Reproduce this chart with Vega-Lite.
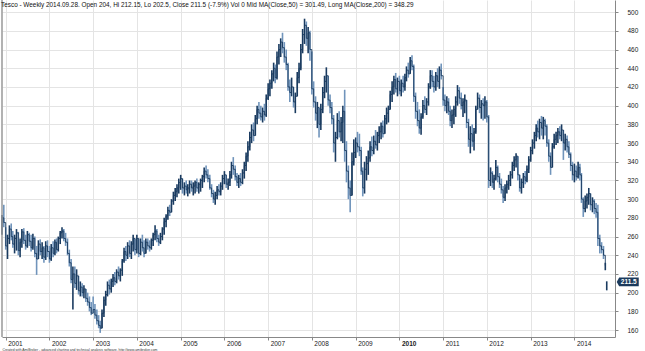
{
  "$schema": "https://vega.github.io/schema/vega-lite/v6.json",
  "width": 613,
  "height": 337,
  "autosize": {"type": "none"},
  "padding": {"left": 2, "right": 30, "top": 0, "bottom": 14},
  "background": "white",
  "config": {
    "view": {"stroke": null},
    "font": "Liberation Sans",
    "axis": {"gridColor": "#e4e4e4", "gridWidth": 1},
    "axisY": {"grid": true, "labelOverlap": false, "tickSize": 3, "tickColor": "#888", "domainColor": "#888", "labelFontSize": 6.5, "labelColor": "#222", "labelPadding": 9}
  },
  "title": {
    "text": "Tesco - Weekly 2014.09.28. Open 204, Hi 212.15, Lo 202.5, Close 211.5 (-7.9%) Vol 0 Mid MA(Close,50) = 301.49, Long MA(Close,200) = 348.29",
    "anchor": "start",
    "frame": "group",
    "orient": "top",
    "fontSize": 6.4,
    "fontWeight": "normal",
    "color": "#111",
    "offset": -9,
    "dx": -1
  },
  "data": {
    "values": [
      {"d": "2000-12-01", "o": 265, "h": 283, "l": 262, "c": 280},
      {"d": "2000-12-16", "o": 278, "h": 294, "l": 270, "c": 275},
      {"d": "2001-01-01", "o": 268, "h": 270, "l": 246, "c": 250},
      {"d": "2001-01-16", "o": 250, "h": 262, "l": 236, "c": 258},
      {"d": "2001-02-01", "o": 258, "h": 272, "l": 252, "c": 268},
      {"d": "2001-02-16", "o": 268, "h": 274, "l": 256, "c": 260},
      {"d": "2001-03-01", "o": 260, "h": 266, "l": 248, "c": 252},
      {"d": "2001-03-16", "o": 252, "h": 262, "l": 242, "c": 258},
      {"d": "2001-04-01", "o": 258, "h": 268, "l": 245, "c": 264},
      {"d": "2001-04-16", "o": 264, "h": 265, "l": 240, "c": 245},
      {"d": "2001-05-01", "o": 245, "h": 258, "l": 238, "c": 254},
      {"d": "2001-05-16", "o": 254, "h": 268, "l": 248, "c": 265},
      {"d": "2001-06-01", "o": 265, "h": 269, "l": 252, "c": 256},
      {"d": "2001-06-16", "o": 256, "h": 262, "l": 246, "c": 250},
      {"d": "2001-07-01", "o": 250, "h": 266, "l": 248, "c": 262},
      {"d": "2001-07-16", "o": 262, "h": 264, "l": 250, "c": 255},
      {"d": "2001-08-01", "o": 255, "h": 262, "l": 244, "c": 248},
      {"d": "2001-08-16", "o": 248, "h": 263, "l": 246, "c": 258},
      {"d": "2001-09-01", "o": 258, "h": 260, "l": 238, "c": 242},
      {"d": "2001-09-16", "o": 242, "h": 250, "l": 219, "c": 236},
      {"d": "2001-10-01", "o": 236, "h": 256, "l": 236, "c": 252},
      {"d": "2001-10-16", "o": 252, "h": 257, "l": 240, "c": 244},
      {"d": "2001-11-01", "o": 244, "h": 254, "l": 236, "c": 248},
      {"d": "2001-11-16", "o": 248, "h": 250, "l": 232, "c": 238},
      {"d": "2001-12-01", "o": 238, "h": 255, "l": 235, "c": 250},
      {"d": "2001-12-16", "o": 250, "h": 256, "l": 238, "c": 244},
      {"d": "2002-01-01", "o": 244, "h": 250, "l": 232, "c": 236},
      {"d": "2002-01-16", "o": 236, "h": 252, "l": 234, "c": 248},
      {"d": "2002-02-01", "o": 248, "h": 255, "l": 238, "c": 242},
      {"d": "2002-02-16", "o": 242, "h": 257, "l": 240, "c": 254},
      {"d": "2002-03-01", "o": 254, "h": 258, "l": 242, "c": 246},
      {"d": "2002-03-16", "o": 246, "h": 260, "l": 244, "c": 258},
      {"d": "2002-04-01", "o": 258, "h": 266, "l": 252, "c": 264},
      {"d": "2002-04-16", "o": 264, "h": 270, "l": 258, "c": 266},
      {"d": "2002-05-01", "o": 266, "h": 268, "l": 255, "c": 258},
      {"d": "2002-05-16", "o": 258, "h": 264, "l": 250, "c": 254},
      {"d": "2002-06-01", "o": 254, "h": 258, "l": 240, "c": 242},
      {"d": "2002-06-16", "o": 242, "h": 246, "l": 228, "c": 232},
      {"d": "2002-07-01", "o": 232, "h": 236, "l": 210, "c": 214},
      {"d": "2002-07-16", "o": 214, "h": 228, "l": 182, "c": 220},
      {"d": "2002-08-01", "o": 220, "h": 228, "l": 205, "c": 210},
      {"d": "2002-08-16", "o": 210, "h": 225, "l": 203, "c": 218},
      {"d": "2002-09-01", "o": 218, "h": 218, "l": 198, "c": 202},
      {"d": "2002-09-16", "o": 202, "h": 212, "l": 196, "c": 206},
      {"d": "2002-10-01", "o": 206, "h": 210, "l": 196, "c": 200},
      {"d": "2002-10-16", "o": 200, "h": 208, "l": 194, "c": 204},
      {"d": "2002-11-01", "o": 204, "h": 204, "l": 190, "c": 194},
      {"d": "2002-11-16", "o": 194, "h": 200, "l": 186, "c": 190},
      {"d": "2002-12-01", "o": 190, "h": 196, "l": 180, "c": 184},
      {"d": "2002-12-16", "o": 184, "h": 190, "l": 176, "c": 178},
      {"d": "2003-01-01", "o": 190, "h": 196, "l": 178, "c": 182},
      {"d": "2003-01-16", "o": 182, "h": 188, "l": 172, "c": 176},
      {"d": "2003-02-01", "o": 176, "h": 182, "l": 166, "c": 170},
      {"d": "2003-02-16", "o": 170, "h": 176, "l": 162, "c": 165},
      {"d": "2003-03-01", "o": 165, "h": 170, "l": 157, "c": 162},
      {"d": "2003-03-16", "o": 162, "h": 182, "l": 162, "c": 178},
      {"d": "2003-04-01", "o": 178, "h": 196, "l": 174, "c": 192},
      {"d": "2003-04-16", "o": 192, "h": 202, "l": 186, "c": 198},
      {"d": "2003-05-01", "o": 198, "h": 212, "l": 196, "c": 208},
      {"d": "2003-05-16", "o": 208, "h": 214, "l": 198, "c": 204},
      {"d": "2003-06-01", "o": 204, "h": 215, "l": 200, "c": 212},
      {"d": "2003-06-16", "o": 212, "h": 220, "l": 206, "c": 216},
      {"d": "2003-07-01", "o": 216, "h": 222, "l": 208, "c": 212},
      {"d": "2003-07-16", "o": 212, "h": 225, "l": 210, "c": 222},
      {"d": "2003-08-01", "o": 222, "h": 228, "l": 214, "c": 218},
      {"d": "2003-08-16", "o": 218, "h": 226, "l": 212, "c": 224},
      {"d": "2003-09-01", "o": 224, "h": 236, "l": 218, "c": 234},
      {"d": "2003-09-16", "o": 234, "h": 248, "l": 232, "c": 244},
      {"d": "2003-10-01", "o": 244, "h": 250, "l": 234, "c": 240},
      {"d": "2003-10-16", "o": 240, "h": 254, "l": 236, "c": 250},
      {"d": "2003-11-01", "o": 250, "h": 256, "l": 238, "c": 242},
      {"d": "2003-11-16", "o": 242, "h": 255, "l": 236, "c": 252},
      {"d": "2003-12-01", "o": 252, "h": 262, "l": 244, "c": 258},
      {"d": "2003-12-16", "o": 258, "h": 258, "l": 240, "c": 246},
      {"d": "2004-01-01", "o": 246, "h": 262, "l": 242, "c": 258},
      {"d": "2004-01-16", "o": 258, "h": 258, "l": 238, "c": 242},
      {"d": "2004-02-01", "o": 242, "h": 258, "l": 240, "c": 254},
      {"d": "2004-02-16", "o": 254, "h": 262, "l": 244, "c": 248},
      {"d": "2004-03-01", "o": 248, "h": 256, "l": 238, "c": 242},
      {"d": "2004-03-16", "o": 242, "h": 258, "l": 242, "c": 254},
      {"d": "2004-04-01", "o": 254, "h": 258, "l": 246, "c": 250},
      {"d": "2004-04-16", "o": 250, "h": 256, "l": 244, "c": 248},
      {"d": "2004-05-01", "o": 248, "h": 258, "l": 246, "c": 256},
      {"d": "2004-05-16", "o": 256, "h": 264, "l": 250, "c": 262},
      {"d": "2004-06-01", "o": 262, "h": 272, "l": 256, "c": 266},
      {"d": "2004-06-16", "o": 266, "h": 268, "l": 254, "c": 258},
      {"d": "2004-07-01", "o": 258, "h": 262, "l": 250, "c": 254},
      {"d": "2004-07-16", "o": 254, "h": 264, "l": 252, "c": 260},
      {"d": "2004-08-01", "o": 260, "h": 270, "l": 256, "c": 268},
      {"d": "2004-08-16", "o": 268, "h": 280, "l": 262, "c": 276},
      {"d": "2004-09-01", "o": 276, "h": 284, "l": 270, "c": 282},
      {"d": "2004-09-16", "o": 282, "h": 292, "l": 278, "c": 288},
      {"d": "2004-10-01", "o": 288, "h": 294, "l": 282, "c": 286},
      {"d": "2004-10-16", "o": 286, "h": 300, "l": 286, "c": 298},
      {"d": "2004-11-01", "o": 298, "h": 308, "l": 294, "c": 304},
      {"d": "2004-11-16", "o": 304, "h": 312, "l": 298, "c": 308},
      {"d": "2004-12-01", "o": 308, "h": 316, "l": 302, "c": 312},
      {"d": "2004-12-16", "o": 312, "h": 322, "l": 306, "c": 318},
      {"d": "2005-01-01", "o": 318, "h": 326, "l": 310, "c": 322},
      {"d": "2005-01-16", "o": 322, "h": 322, "l": 306, "c": 312},
      {"d": "2005-02-01", "o": 312, "h": 318, "l": 304, "c": 314},
      {"d": "2005-02-16", "o": 314, "h": 320, "l": 306, "c": 310},
      {"d": "2005-03-01", "o": 310, "h": 316, "l": 303, "c": 312},
      {"d": "2005-03-16", "o": 312, "h": 320, "l": 306, "c": 316},
      {"d": "2005-04-01", "o": 316, "h": 320, "l": 308, "c": 312},
      {"d": "2005-04-16", "o": 312, "h": 318, "l": 304, "c": 314},
      {"d": "2005-05-01", "o": 314, "h": 320, "l": 306, "c": 318},
      {"d": "2005-05-16", "o": 318, "h": 322, "l": 308, "c": 312},
      {"d": "2005-06-01", "o": 312, "h": 318, "l": 306, "c": 316},
      {"d": "2005-06-16", "o": 316, "h": 322, "l": 308, "c": 320},
      {"d": "2005-07-01", "o": 320, "h": 326, "l": 312, "c": 324},
      {"d": "2005-07-16", "o": 324, "h": 334, "l": 318, "c": 330},
      {"d": "2005-08-01", "o": 330, "h": 336, "l": 322, "c": 326},
      {"d": "2005-08-16", "o": 326, "h": 332, "l": 318, "c": 322},
      {"d": "2005-09-01", "o": 322, "h": 326, "l": 310, "c": 312},
      {"d": "2005-09-16", "o": 312, "h": 316, "l": 302, "c": 306},
      {"d": "2005-10-01", "o": 306, "h": 310, "l": 296, "c": 300},
      {"d": "2005-10-16", "o": 300, "h": 308, "l": 294, "c": 304},
      {"d": "2005-11-01", "o": 304, "h": 314, "l": 300, "c": 310},
      {"d": "2005-11-16", "o": 310, "h": 316, "l": 304, "c": 308},
      {"d": "2005-12-01", "o": 308, "h": 318, "l": 304, "c": 314},
      {"d": "2005-12-16", "o": 314, "h": 326, "l": 310, "c": 322},
      {"d": "2006-01-01", "o": 322, "h": 330, "l": 316, "c": 326},
      {"d": "2006-01-16", "o": 326, "h": 326, "l": 312, "c": 316},
      {"d": "2006-02-01", "o": 316, "h": 322, "l": 310, "c": 318},
      {"d": "2006-02-16", "o": 318, "h": 330, "l": 314, "c": 326},
      {"d": "2006-03-01", "o": 326, "h": 340, "l": 322, "c": 336},
      {"d": "2006-03-16", "o": 336, "h": 345, "l": 326, "c": 332},
      {"d": "2006-04-01", "o": 332, "h": 336, "l": 320, "c": 324},
      {"d": "2006-04-16", "o": 324, "h": 328, "l": 314, "c": 318},
      {"d": "2006-05-01", "o": 318, "h": 326, "l": 312, "c": 322},
      {"d": "2006-05-16", "o": 322, "h": 328, "l": 314, "c": 318},
      {"d": "2006-06-01", "o": 318, "h": 332, "l": 316, "c": 328},
      {"d": "2006-06-16", "o": 328, "h": 340, "l": 322, "c": 336},
      {"d": "2006-07-01", "o": 336, "h": 350, "l": 330, "c": 346},
      {"d": "2006-07-16", "o": 346, "h": 362, "l": 340, "c": 356},
      {"d": "2006-08-01", "o": 356, "h": 372, "l": 352, "c": 366},
      {"d": "2006-08-16", "o": 366, "h": 380, "l": 360, "c": 374},
      {"d": "2006-09-01", "o": 374, "h": 382, "l": 362, "c": 368},
      {"d": "2006-09-16", "o": 368, "h": 390, "l": 368, "c": 386},
      {"d": "2006-10-01", "o": 386, "h": 400, "l": 380, "c": 396},
      {"d": "2006-10-16", "o": 396, "h": 404, "l": 386, "c": 392},
      {"d": "2006-11-01", "o": 392, "h": 400, "l": 384, "c": 388},
      {"d": "2006-11-16", "o": 388, "h": 398, "l": 382, "c": 394},
      {"d": "2006-12-01", "o": 394, "h": 402, "l": 384, "c": 390},
      {"d": "2006-12-16", "o": 390, "h": 412, "l": 388, "c": 408},
      {"d": "2007-01-01", "o": 408, "h": 424, "l": 406, "c": 418},
      {"d": "2007-01-16", "o": 418, "h": 428, "l": 410, "c": 424},
      {"d": "2007-02-01", "o": 424, "h": 438, "l": 418, "c": 434},
      {"d": "2007-02-16", "o": 434, "h": 446, "l": 426, "c": 440},
      {"d": "2007-03-01", "o": 440, "h": 444, "l": 424, "c": 430},
      {"d": "2007-03-16", "o": 430, "h": 458, "l": 428, "c": 452},
      {"d": "2007-04-01", "o": 452, "h": 466, "l": 444, "c": 460},
      {"d": "2007-04-16", "o": 460, "h": 472, "l": 452, "c": 468},
      {"d": "2007-05-01", "o": 468, "h": 478, "l": 456, "c": 462},
      {"d": "2007-05-16", "o": 462, "h": 468, "l": 446, "c": 452},
      {"d": "2007-06-01", "o": 452, "h": 460, "l": 438, "c": 444},
      {"d": "2007-06-16", "o": 444, "h": 446, "l": 416, "c": 420},
      {"d": "2007-07-01", "o": 420, "h": 428, "l": 404, "c": 414},
      {"d": "2007-07-16", "o": 414, "h": 430, "l": 410, "c": 420},
      {"d": "2007-08-01", "o": 420, "h": 420, "l": 398, "c": 404},
      {"d": "2007-08-16", "o": 404, "h": 414, "l": 392, "c": 410},
      {"d": "2007-09-01", "o": 410, "h": 436, "l": 410, "c": 430},
      {"d": "2007-09-16", "o": 430, "h": 446, "l": 424, "c": 440},
      {"d": "2007-10-01", "o": 440, "h": 466, "l": 438, "c": 460},
      {"d": "2007-10-16", "o": 460, "h": 482, "l": 456, "c": 476},
      {"d": "2007-11-01", "o": 476, "h": 493, "l": 466, "c": 486},
      {"d": "2007-11-16", "o": 486, "h": 490, "l": 464, "c": 472},
      {"d": "2007-12-01", "o": 472, "h": 484, "l": 456, "c": 478},
      {"d": "2007-12-16", "o": 478, "h": 480, "l": 448, "c": 460},
      {"d": "2008-01-01", "o": 452, "h": 458, "l": 412, "c": 418},
      {"d": "2008-01-16", "o": 418, "h": 426, "l": 398, "c": 404},
      {"d": "2008-02-01", "o": 404, "h": 410, "l": 384, "c": 392},
      {"d": "2008-02-16", "o": 392, "h": 404, "l": 376, "c": 398},
      {"d": "2008-03-01", "o": 398, "h": 398, "l": 366, "c": 380},
      {"d": "2008-03-16", "o": 380, "h": 402, "l": 374, "c": 396},
      {"d": "2008-04-01", "o": 396, "h": 420, "l": 392, "c": 414},
      {"d": "2008-04-16", "o": 414, "h": 432, "l": 408, "c": 426},
      {"d": "2008-05-01", "o": 426, "h": 441, "l": 414, "c": 432},
      {"d": "2008-05-16", "o": 432, "h": 432, "l": 400, "c": 406},
      {"d": "2008-06-01", "o": 406, "h": 412, "l": 392, "c": 398},
      {"d": "2008-06-16", "o": 398, "h": 404, "l": 380, "c": 386},
      {"d": "2008-07-01", "o": 386, "h": 390, "l": 350, "c": 360},
      {"d": "2008-07-16", "o": 360, "h": 372, "l": 340, "c": 366},
      {"d": "2008-08-01", "o": 366, "h": 392, "l": 364, "c": 384},
      {"d": "2008-08-16", "o": 384, "h": 394, "l": 366, "c": 372},
      {"d": "2008-09-01", "o": 372, "h": 388, "l": 362, "c": 382},
      {"d": "2008-09-16", "o": 382, "h": 400, "l": 360, "c": 394},
      {"d": "2008-10-01", "o": 394, "h": 417, "l": 340, "c": 352},
      {"d": "2008-10-16", "o": 352, "h": 362, "l": 318, "c": 330},
      {"d": "2008-11-01", "o": 330, "h": 336, "l": 300, "c": 312},
      {"d": "2008-11-16", "o": 312, "h": 320, "l": 286, "c": 304},
      {"d": "2008-12-01", "o": 304, "h": 350, "l": 304, "c": 340},
      {"d": "2008-12-16", "o": 340, "h": 364, "l": 336, "c": 350},
      {"d": "2009-01-01", "o": 350, "h": 366, "l": 344, "c": 360},
      {"d": "2009-01-16", "o": 360, "h": 372, "l": 350, "c": 356},
      {"d": "2009-02-01", "o": 356, "h": 370, "l": 346, "c": 352},
      {"d": "2009-02-16", "o": 352, "h": 356, "l": 326, "c": 330},
      {"d": "2009-03-01", "o": 330, "h": 334, "l": 303, "c": 312},
      {"d": "2009-03-16", "o": 312, "h": 340, "l": 306, "c": 332},
      {"d": "2009-04-01", "o": 332, "h": 346, "l": 320, "c": 338},
      {"d": "2009-04-16", "o": 338, "h": 352, "l": 326, "c": 344},
      {"d": "2009-05-01", "o": 344, "h": 362, "l": 340, "c": 356},
      {"d": "2009-05-16", "o": 356, "h": 367, "l": 346, "c": 352},
      {"d": "2009-06-01", "o": 352, "h": 368, "l": 348, "c": 362},
      {"d": "2009-06-16", "o": 362, "h": 374, "l": 354, "c": 358},
      {"d": "2009-07-01", "o": 358, "h": 372, "l": 352, "c": 368},
      {"d": "2009-07-16", "o": 368, "h": 378, "l": 360, "c": 372},
      {"d": "2009-08-01", "o": 372, "h": 382, "l": 364, "c": 378},
      {"d": "2009-08-16", "o": 378, "h": 384, "l": 366, "c": 370},
      {"d": "2009-09-01", "o": 370, "h": 390, "l": 370, "c": 386},
      {"d": "2009-09-16", "o": 386, "h": 398, "l": 380, "c": 392},
      {"d": "2009-10-01", "o": 392, "h": 400, "l": 382, "c": 396},
      {"d": "2009-10-16", "o": 396, "h": 416, "l": 396, "c": 412},
      {"d": "2009-11-01", "o": 412, "h": 426, "l": 404, "c": 420},
      {"d": "2009-11-16", "o": 420, "h": 432, "l": 412, "c": 428},
      {"d": "2009-12-01", "o": 428, "h": 435, "l": 414, "c": 418},
      {"d": "2009-12-16", "o": 418, "h": 430, "l": 410, "c": 426},
      {"d": "2010-01-01", "o": 426, "h": 432, "l": 412, "c": 416},
      {"d": "2010-01-16", "o": 416, "h": 428, "l": 410, "c": 424},
      {"d": "2010-02-01", "o": 424, "h": 432, "l": 414, "c": 420},
      {"d": "2010-02-16", "o": 420, "h": 434, "l": 416, "c": 430},
      {"d": "2010-03-01", "o": 430, "h": 442, "l": 426, "c": 438},
      {"d": "2010-03-16", "o": 438, "h": 446, "l": 430, "c": 434},
      {"d": "2010-04-01", "o": 434, "h": 452, "l": 434, "c": 448},
      {"d": "2010-04-16", "o": 448, "h": 454, "l": 438, "c": 442},
      {"d": "2010-05-01", "o": 442, "h": 444, "l": 404, "c": 410},
      {"d": "2010-05-16", "o": 410, "h": 414, "l": 386, "c": 394},
      {"d": "2010-06-01", "o": 394, "h": 404, "l": 378, "c": 384},
      {"d": "2010-06-16", "o": 384, "h": 396, "l": 370, "c": 376},
      {"d": "2010-07-01", "o": 376, "h": 392, "l": 369, "c": 388},
      {"d": "2010-07-16", "o": 388, "h": 406, "l": 386, "c": 400},
      {"d": "2010-08-01", "o": 400, "h": 410, "l": 392, "c": 396},
      {"d": "2010-08-16", "o": 396, "h": 408, "l": 390, "c": 404},
      {"d": "2010-09-01", "o": 404, "h": 424, "l": 400, "c": 420},
      {"d": "2010-09-16", "o": 420, "h": 438, "l": 418, "c": 432},
      {"d": "2010-10-01", "o": 432, "h": 438, "l": 420, "c": 426},
      {"d": "2010-10-16", "o": 426, "h": 432, "l": 414, "c": 420},
      {"d": "2010-11-01", "o": 420, "h": 436, "l": 416, "c": 432},
      {"d": "2010-11-16", "o": 432, "h": 440, "l": 420, "c": 426},
      {"d": "2010-12-01", "o": 426, "h": 442, "l": 418, "c": 438},
      {"d": "2010-12-16", "o": 438, "h": 445, "l": 428, "c": 432},
      {"d": "2011-01-01", "o": 418, "h": 420, "l": 400, "c": 406},
      {"d": "2011-01-16", "o": 406, "h": 412, "l": 394, "c": 400},
      {"d": "2011-02-01", "o": 400, "h": 410, "l": 392, "c": 404},
      {"d": "2011-02-16", "o": 404, "h": 408, "l": 390, "c": 394},
      {"d": "2011-03-01", "o": 394, "h": 400, "l": 378, "c": 384},
      {"d": "2011-03-16", "o": 384, "h": 396, "l": 376, "c": 390},
      {"d": "2011-04-01", "o": 390, "h": 400, "l": 380, "c": 396},
      {"d": "2011-04-16", "o": 396, "h": 410, "l": 388, "c": 404},
      {"d": "2011-05-01", "o": 404, "h": 422, "l": 400, "c": 416},
      {"d": "2011-05-16", "o": 416, "h": 420, "l": 402, "c": 408},
      {"d": "2011-06-01", "o": 408, "h": 414, "l": 396, "c": 400},
      {"d": "2011-06-16", "o": 400, "h": 408, "l": 388, "c": 404},
      {"d": "2011-07-01", "o": 404, "h": 412, "l": 392, "c": 406},
      {"d": "2011-07-16", "o": 406, "h": 406, "l": 376, "c": 382},
      {"d": "2011-08-01", "o": 382, "h": 386, "l": 356, "c": 364},
      {"d": "2011-08-16", "o": 364, "h": 378, "l": 349, "c": 370},
      {"d": "2011-09-01", "o": 370, "h": 380, "l": 356, "c": 362},
      {"d": "2011-09-16", "o": 362, "h": 376, "l": 352, "c": 372},
      {"d": "2011-10-01", "o": 372, "h": 400, "l": 370, "c": 396},
      {"d": "2011-10-16", "o": 396, "h": 414, "l": 396, "c": 408},
      {"d": "2011-11-01", "o": 408, "h": 412, "l": 392, "c": 398},
      {"d": "2011-11-16", "o": 398, "h": 406, "l": 386, "c": 402},
      {"d": "2011-12-01", "o": 402, "h": 408, "l": 384, "c": 400},
      {"d": "2011-12-16", "o": 400, "h": 410, "l": 386, "c": 404},
      {"d": "2012-01-01", "o": 404, "h": 406, "l": 382, "c": 388},
      {"d": "2012-01-16", "o": 388, "h": 390, "l": 312, "c": 320},
      {"d": "2012-02-01", "o": 320, "h": 334, "l": 314, "c": 328},
      {"d": "2012-02-16", "o": 328, "h": 330, "l": 312, "c": 318},
      {"d": "2012-03-01", "o": 318, "h": 326, "l": 310, "c": 322},
      {"d": "2012-03-16", "o": 322, "h": 342, "l": 320, "c": 334},
      {"d": "2012-04-01", "o": 334, "h": 336, "l": 318, "c": 324},
      {"d": "2012-04-16", "o": 324, "h": 328, "l": 312, "c": 316},
      {"d": "2012-05-01", "o": 316, "h": 322, "l": 306, "c": 310},
      {"d": "2012-05-16", "o": 310, "h": 314, "l": 296, "c": 302},
      {"d": "2012-06-01", "o": 302, "h": 316, "l": 298, "c": 312},
      {"d": "2012-06-16", "o": 312, "h": 320, "l": 306, "c": 316},
      {"d": "2012-07-01", "o": 316, "h": 326, "l": 310, "c": 320},
      {"d": "2012-07-16", "o": 320, "h": 330, "l": 314, "c": 326},
      {"d": "2012-08-01", "o": 326, "h": 340, "l": 322, "c": 336},
      {"d": "2012-08-16", "o": 336, "h": 346, "l": 330, "c": 342},
      {"d": "2012-09-01", "o": 342, "h": 349, "l": 334, "c": 346},
      {"d": "2012-09-16", "o": 346, "h": 346, "l": 320, "c": 326},
      {"d": "2012-10-01", "o": 326, "h": 326, "l": 308, "c": 312},
      {"d": "2012-10-16", "o": 312, "h": 322, "l": 306, "c": 318},
      {"d": "2012-11-01", "o": 318, "h": 328, "l": 312, "c": 324},
      {"d": "2012-11-16", "o": 324, "h": 330, "l": 316, "c": 320},
      {"d": "2012-12-01", "o": 320, "h": 336, "l": 318, "c": 332},
      {"d": "2012-12-16", "o": 332, "h": 346, "l": 328, "c": 342},
      {"d": "2013-01-01", "o": 342, "h": 356, "l": 340, "c": 352},
      {"d": "2013-01-16", "o": 352, "h": 364, "l": 348, "c": 360},
      {"d": "2013-02-01", "o": 360, "h": 372, "l": 354, "c": 368},
      {"d": "2013-02-16", "o": 368, "h": 380, "l": 362, "c": 376},
      {"d": "2013-03-01", "o": 376, "h": 384, "l": 366, "c": 372},
      {"d": "2013-03-16", "o": 372, "h": 386, "l": 364, "c": 382},
      {"d": "2013-04-01", "o": 382, "h": 389, "l": 368, "c": 376},
      {"d": "2013-04-16", "o": 376, "h": 388, "l": 364, "c": 384},
      {"d": "2013-05-01", "o": 384, "h": 386, "l": 368, "c": 378},
      {"d": "2013-05-16", "o": 378, "h": 380, "l": 356, "c": 360},
      {"d": "2013-06-01", "o": 360, "h": 364, "l": 340, "c": 346},
      {"d": "2013-06-16", "o": 346, "h": 350, "l": 326, "c": 334},
      {"d": "2013-07-01", "o": 334, "h": 360, "l": 334, "c": 356},
      {"d": "2013-07-16", "o": 356, "h": 370, "l": 354, "c": 364},
      {"d": "2013-08-01", "o": 364, "h": 372, "l": 358, "c": 368},
      {"d": "2013-08-16", "o": 368, "h": 376, "l": 360, "c": 372},
      {"d": "2013-09-01", "o": 372, "h": 378, "l": 364, "c": 368},
      {"d": "2013-09-16", "o": 368, "h": 380, "l": 362, "c": 374},
      {"d": "2013-10-01", "o": 374, "h": 374, "l": 342, "c": 360},
      {"d": "2013-10-16", "o": 360, "h": 370, "l": 352, "c": 364},
      {"d": "2013-11-01", "o": 364, "h": 368, "l": 350, "c": 356},
      {"d": "2013-11-16", "o": 356, "h": 362, "l": 344, "c": 348},
      {"d": "2013-12-01", "o": 348, "h": 350, "l": 330, "c": 336},
      {"d": "2013-12-16", "o": 336, "h": 340, "l": 320, "c": 326},
      {"d": "2014-01-01", "o": 326, "h": 338, "l": 318, "c": 330},
      {"d": "2014-01-16", "o": 330, "h": 336, "l": 320, "c": 324},
      {"d": "2014-02-01", "o": 324, "h": 340, "l": 322, "c": 334},
      {"d": "2014-02-16", "o": 334, "h": 338, "l": 320, "c": 326},
      {"d": "2014-03-01", "o": 326, "h": 328, "l": 296, "c": 300},
      {"d": "2014-03-16", "o": 300, "h": 302, "l": 281, "c": 290},
      {"d": "2014-04-01", "o": 290, "h": 304, "l": 286, "c": 298},
      {"d": "2014-04-16", "o": 298, "h": 306, "l": 290, "c": 302},
      {"d": "2014-05-01", "o": 302, "h": 312, "l": 294, "c": 306},
      {"d": "2014-05-16", "o": 306, "h": 306, "l": 288, "c": 294},
      {"d": "2014-06-01", "o": 294, "h": 302, "l": 286, "c": 298},
      {"d": "2014-06-16", "o": 298, "h": 300, "l": 284, "c": 290},
      {"d": "2014-07-01", "o": 290, "h": 296, "l": 280, "c": 286},
      {"d": "2014-07-16", "o": 286, "h": 294, "l": 250, "c": 258},
      {"d": "2014-08-01", "o": 258, "h": 262, "l": 242, "c": 250},
      {"d": "2014-08-16", "o": 250, "h": 254, "l": 242, "c": 246},
      {"d": "2014-09-01", "o": 246, "h": 250, "l": 236, "c": 240},
      {"d": "2014-09-16", "o": 228, "h": 232, "l": 224, "c": 229},
      {"d": "2014-09-28", "o": 204, "h": 212.15, "l": 202.5, "c": 211.5}
    ]
  },
  "layer": [
    {
      "mark": {"type": "rule", "strokeWidth": 1.6},
      "encoding": {
        "x": {
          "field": "d",
          "type": "temporal",
          "scale": {"domain": [{"year": 2000, "month": 12, "date": 1}, {"year": 2014, "month": 12, "date": 6}]},
          "axis": {
            "orient": "bottom",
            "tickCount": {"interval": "year", "step": 1},
            "format": "%Y",
            "labelAlign": "left",
            "labelOffset": 2,
            "labelPadding": 0,
            "labelFlush": false,
            "labelOverlap": false,
            "labelFontSize": 6.5,
            "labelColor": "#222",
            "labelFontWeight": {"condition": {"test": "year(datum.value) == 2010", "value": "bold"}, "value": "normal"},
            "tickSize": 3,
            "tickColor": "#888",
            "domainColor": "#888",
            "grid": true,
            "title": "Created with AmiBroker - advanced charting and technical analysis software. http://www.amibroker.com",
            "titleFontSize": 3.4,
            "titleFontWeight": "normal",
            "titleColor": "#333",
            "titleAnchor": "start",
            "titlePadding": 1
          }
        },
        "y": {
          "field": "l",
          "type": "quantitative",
          "scale": {"domain": [152.6, 513], "nice": false, "zero": false},
          "axis": {"orient": "right", "values": [160, 180, 200, 220, 240, 260, 280, 300, 320, 340, 360, 380, 400, 420, 440, 460, 480, 500], "title": null}
        },
        "y2": {"field": "h"},
        "color": {"condition": {"test": "datum.c >= datum.o", "value": "#1a3b60"}, "value": "#7094bb"}
      }
    },
    {
      "transform": [{"filter": "datum.c != 211.5"}],
      "mark": {"type": "line", "color": "#1a3b60", "strokeWidth": 0.9, "interpolate": "step-after"},
      "encoding": {
        "x": {"field": "d", "type": "temporal"},
        "y": {"field": "c", "type": "quantitative", "axis": {"orient": "right", "values": [160, 180, 200, 220, 240, 260, 280, 300, 320, 340, 360, 380, 400, 420, 440, 460, 480, 500], "title": null}}
      }
    },
    {
      "data": {"values": [{"d": "2000-12-01"}]},
      "mark": {"type": "rule", "color": "#999", "strokeWidth": 1.5},
      "encoding": {"x": {"field": "d", "type": "temporal"}}
    },
    {
      "data": {"values": [{"d": "2014-09-28", "c": 211.5}]},
      "mark": {"type": "point", "shape": "M-1,0 L-0.78,-0.4 L1,-0.4 L1,0.4 L-0.78,0.4 Z", "size": 484, "filled": true, "opacity": 1, "color": "#1b3a5c", "xOffset": 21},
      "encoding": {
        "x": {"field": "d", "type": "temporal"},
        "y": {"field": "c", "type": "quantitative", "axis": {"orient": "right", "values": [160, 180, 200, 220, 240, 260, 280, 300, 320, 340, 360, 380, 400, 420, 440, 460, 480, 500], "title": null}}
      }
    },
    {
      "data": {"values": [{"d": "2014-09-28", "c": 211.5}]},
      "mark": {"type": "text", "dx": 22, "color": "white", "fontSize": 6.5, "fontWeight": "bold", "align": "center", "baseline": "middle"},
      "encoding": {
        "x": {"field": "d", "type": "temporal"},
        "y": {"field": "c", "type": "quantitative", "axis": {"orient": "right", "values": [160, 180, 200, 220, 240, 260, 280, 300, 320, 340, 360, 380, 400, 420, 440, 460, 480, 500], "title": null}},
        "text": {"field": "c", "type": "quantitative"}
      }
    }
  ]
}
